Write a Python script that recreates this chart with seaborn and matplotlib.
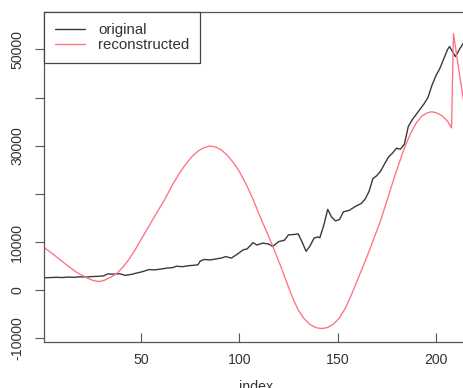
import matplotlib
matplotlib.use("Agg")
import matplotlib.pyplot as plt
import seaborn as sns
import pandas as pd

orig_x = [1, 4, 7, 10, 13, 16, 19, 22, 25, 28, 31, 33, 36, 39, 42, 45, 48, 51, 54, 57,
          60, 63, 66, 68, 71, 74, 77, 79, 80, 82, 85, 88, 91, 93, 96, 99, 102, 104, 107, 109,
          112, 115, 117, 120, 123, 125, 128, 130, 132, 134, 136, 138, 140, 141, 143, 145, 147, 149, 151, 153,
          156, 159, 162, 164, 166, 168, 170, 172, 174, 176, 178, 180, 182, 184, 186, 188, 190, 192, 194, 196,
          198, 200, 202, 204, 206, 207, 208, 210, 212, 214, 216, 218]
orig_y = [2600, 2650, 2700, 2650, 2750, 2700, 2800, 2750, 2850, 2900, 3000, 3400, 3350, 3450, 3100, 3300, 3600, 3900, 4300, 4250,
          4400, 4600, 4700, 5000, 4900, 5100, 5200, 5300, 6000, 6400, 6300, 6500, 6700, 7000, 6700, 7500, 8400, 8600, 9900, 9400,
          9800, 9600, 9100, 10100, 10400, 11500, 11600, 11700, 10000, 8100, 9200, 10800, 11100, 10900, 13500, 16800, 15200, 14400, 14700, 16300,
          16600, 17400, 18000, 18900, 20500, 23200, 23800, 24800, 26300, 27700, 28500, 29500, 29300, 30300, 34000, 35400, 36500, 37600, 38700, 40000,
          42500, 44500, 46000, 48000, 50000, 50600, 49900, 48500, 50000, 51300, 52600, 53500]

rec_x = [1, 5, 9, 13, 17, 21, 24, 26, 28, 30, 32, 35, 38, 41, 44, 47, 50, 54, 58, 62,
         66, 70, 73, 76, 79, 82, 85, 88, 91, 94, 97, 100, 104, 107, 111, 114, 117, 121, 124, 127,
         130, 133, 136, 139, 142, 145, 148, 151, 154, 157, 161, 165, 169, 172, 175, 178, 181, 184, 187, 190,
         193, 196, 198, 200, 203, 206, 208, 209, 212, 216, 218]
rec_y = [8800, 7600, 6300, 5000, 3800, 2900, 2300, 2000, 1850, 1900, 2200, 2800, 3600, 4900, 6500, 8400, 10500, 13300, 16100, 18800,
         21900, 24600, 26300, 27800, 28900, 29600, 29950, 29750, 29100, 28000, 26500, 24700, 21600, 18900, 14900, 12100, 9200, 5100, 1800, -1400,
         -4100, -5900, -7100, -7750, -7950, -7700, -7000, -5700, -3700, -1000, 3000, 7000, 11300, 14600, 18400, 22300, 26000, 29500, 32400, 34700,
         36200, 36900, 37050, 36900, 36300, 35100, 33700, 53300, 45000, 34400, 29500]

y_ticks = [-10000, 0, 10000, 20000, 30000, 40000, 50000]
y_labels = ["-10000", "0", "10000", "", "30000", "", "50000"]
x_ticks = [50, 100, 150, 200]
x_labels = ["50", "100", "150", "200"]

sns.set_theme(style="white")
plt.rcParams["font.family"] = ["Liberation Sans", "DejaVu Sans"]

fig = plt.figure(figsize=(4.63, 3.88), dpi=100)
ax = fig.add_axes([0.0957, 0.1193, 0.9043 + 0.01, 0.849])

df_o = pd.DataFrame({"index": orig_x, "value": orig_y})
df_r = pd.DataFrame({"index": rec_x, "value": rec_y})
sns.lineplot(data=df_o, x="index", y="value", ax=ax, color="#3a3a3a", lw=1.0, label="original")
sns.lineplot(data=df_r, x="index", y="value", ax=ax, color="#ff7083", lw=0.95, label="reconstructed")

ax.set_xlim(0.8, 216.2)
ax.set_ylim(-10670, 57710)

text_c = "#333333"
fs = 10.2
ax.set_yticks(y_ticks)
ax.set_yticklabels(y_labels, rotation=90, va="center", fontsize=fs, color=text_c)
ax.set_xticks(x_ticks)
ax.set_xticklabels(x_labels, fontsize=fs, color=text_c)
ax.tick_params(axis="y", direction="out", length=6.5, width=0.8, color="#555555", pad=8.0, left=True)
ax.tick_params(axis="x", direction="in", length=6.5, width=0.8, color="#555555", pad=8.3, bottom=True)
ax.set_ylabel("")
ax.set_xlabel("index", fontsize=fs, color=text_c, labelpad=9)

for s in ["left", "bottom", "top"]:
    ax.spines[s].set_visible(True)
    ax.spines[s].set_color("#555555")
    ax.spines[s].set_linewidth(0.9)
ax.spines["right"].set_visible(False)

leg = ax.legend(loc="upper left", bbox_to_anchor=(0, 1), borderaxespad=0, fancybox=False,
                edgecolor="#444444", framealpha=1, fontsize=10.8, borderpad=0.7,
                labelspacing=0.1, handlelength=2.0, handletextpad=0.9)
leg.get_frame().set_linewidth(0.9)
for t in leg.get_texts():
    t.set_color(text_c)

fig.savefig("out.png", dpi=100)
